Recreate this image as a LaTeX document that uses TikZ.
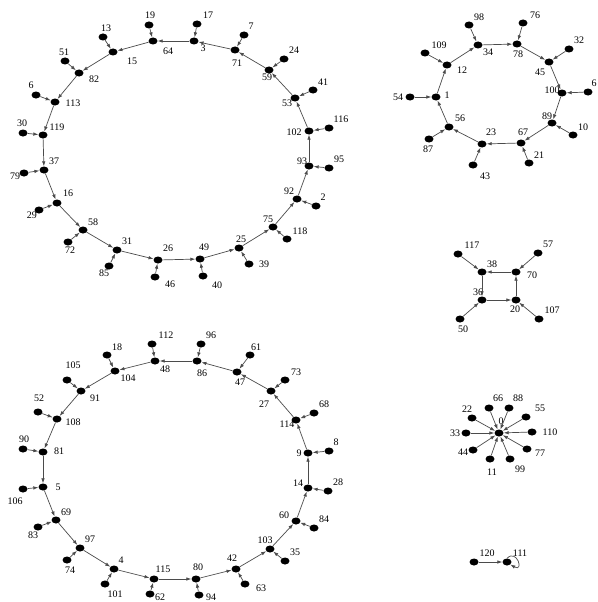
\documentclass[tikz,border=0pt]{standalone}
\usepackage{fontspec}
\setmainfont{Liberation Serif}
\usetikzlibrary{shapes.geometric}
\usetikzlibrary{arrows.meta}

\definecolor{edgegray}{RGB}{75,75,75}
\tikzset{
    vtx/.style={ellipse, fill=black, minimum width=9pt, minimum height=7pt, inner sep=0pt},
    lab/.style={font=\fontsize{10}{12}\selectfont, inner sep=0pt},
    arc/.style={draw=edgegray, line width=0.7pt, -{Latex[length=5pt,width=3.5pt]}},
}

\begin{document}
\begin{tikzpicture}[x=1pt, y=-1pt]
    \useasboundingbox (0,0) rectangle (597,602);

    % upper left ring
    \foreach \n/\x/\y/\lx/\ly in {3/194/41/203/48, 64/153/41/168/51, 15/113/52/132/61,
        82/79/73/94/79, 113/55/102/73/103, 119/43/135/57/127, 37/44/170/54/161,
        16/57/203/68/193, 58/83/230/93/222, 31/117/250/127/241, 26/158/260/168/248,
        49/200/259/204/247, 25/239/248/241/239, 75/273/227/268/219, 92/297/199/289/191,
        93/309/166/302/161, 102/309/131/294/132, 53/295/98/287/103, 59/269/70/267/77,
        71/235/50/237/63,
        17/197/24/208/15, 19/149/25/150/15, 13/103/37/106/28, 51/65/61/64/52,
        6/36/95/31/85, 30/23/133/22/123, 79/24/173/15/176, 29/39/210/32/215,
        72/68/242/70/250, 85/109/266/104/273, 46/155/277/170/284, 40/203/276/217/285,
        39/249/264/264/264, 118/287/239/300/231, 2/316/206/323/197, 95/329/168/339/159,
        116/329/128/341/119, 41/313/90/323/82, 24/284/59/294/50, 7/244/35/251/26} {
        \node[vtx] (v\n) at (\x,\y) {};
        \node[lab] (l\n) at (\lx,\ly) {\n};
    }

    % lower left ring
    \foreach \n/\x/\y/\lx/\ly in {48/155/361/165/369, 86/197/361/202/373, 47/237/372/240/382,
        27/271/391/264/404, 114/296/420/287/424, 9/308/453/299/453, 14/308/488/298/483,
        60/296/521/284/515, 103/270/549/265/540, 42/236/569/232/558, 80/196/579/198/567,
        115/154/579/163/569, 4/114/569/121/560, 97/80/548/90/539, 69/56/520/66/512,
        5/43/487/58/487, 81/43/452/59/451, 108/57/419/73/422, 91/81/391/95/398,
        104/115/371/128/378,
        112/152/344/166/335, 96/201/344/211/335, 61/250/355/256/347, 73/285/380/296/372,
        68/314/413/324/404, 8/329/451/336/442, 28/328/491/338/482, 84/314/528/324/519,
        35/285/561/295/552, 63/245/584/261/588, 94/199/595/211/597, 62/150/594/160/597,
        101/105/584/115/594, 74/67/560/70/570, 83/38/527/33/535, 106/23/489/15/501,
        90/23/449/24/439, 52/38/412/39/398, 105/67/380/73/365, 18/107/355/117/347} {
        \node[vtx] (v\n) at (\x,\y) {};
        \node[lab] (l\n) at (\lx,\ly) {\n};
    }

    % upper right ring
    \foreach \n/\x/\y/\lx/\ly in {1/436/97/447/95, 12/447/65/462/70, 34/478/45/488/52,
        78/517/44/518/54, 45/549/62/540/72, 100/562/93/552/90, 89/552/123/547/116,
        67/521/143/523/132, 23/482/144/491/132, 56/449/127/460/118,
        54/410/97/398/97, 109/425/53/439/45, 98/469/25/479/17, 76/523/23/535/15,
        32/569/49/579/40, 10/573/135/583/127, 21/529/163/539/155, 43/473/165/485/176,
        87/429/139/428/149} {
        \node[vtx] (v\n) at (\x,\y) {};
        \node[lab] (l\n) at (\lx,\ly) {\n};
    }
    \node[vtx] (v6b) at (588,92) {};
    \node[lab] (l6b) at (594,83) {6};

    % square
    \foreach \n/\x/\y/\lx/\ly in {38/482/272/492/264, 70/516/272/532/275, 36/482/300/478/292,
        20/516/300/515/309, 117/458/254/472/245, 57/538/253/548/244, 50/460/319/463/329,
        107/539/319/552/310} {
        \node[vtx] (v\n) at (\x,\y) {};
        \node[lab] (l\n) at (\lx,\ly) {\n};
    }

    % star
    \foreach \n/\x/\y/\lx/\ly in {0/499/433/501/421, 66/489/408/498/398, 88/509/408/518/398,
        55/526/417/540/408, 110/532/432/550/432, 77/527/449/540/453, 99/510/459/520/469,
        11/490/459/492/472, 44/473/450/463/452, 33/466/433/455/433, 22/472/418/467/409,
        120/474/562/487/553, 111/507/562/520/553} {
        \node[vtx] (v\n) at (\x,\y) {};
        \node[lab] (l\n) at (\lx,\ly) {\n};
    }

    % cycles
    \foreach \a/\b in {3/64, 64/15, 15/82, 82/113, 113/119, 119/37, 37/16, 16/58, 58/31,
        31/26, 26/49, 49/25, 25/75, 75/92, 92/93, 93/102, 102/53, 53/59, 59/71, 71/3,
        86/48, 48/104, 104/91, 91/108, 108/81, 81/5, 5/69, 69/97, 97/4, 4/115, 115/80,
        80/42, 42/103, 103/60, 60/14, 14/9, 9/114, 114/27, 27/47, 47/86,
        1/12, 12/34, 34/78, 78/45, 45/100, 100/89, 89/67, 67/23, 23/56, 56/1,
        38/36, 36/20, 20/70, 70/38}
        \draw[arc] (v\a) -- (v\b);

    % pendants
    \foreach \a/\b in {17/3, 19/64, 13/15, 51/82, 6/113, 30/119, 79/37, 29/16, 72/58,
        85/31, 46/26, 40/49, 39/25, 118/75, 2/92, 95/93, 116/102, 41/53, 24/59, 7/71,
        112/48, 96/86, 61/47, 73/27, 68/114, 8/9, 28/14, 84/60, 35/103, 63/42, 94/80,
        62/115, 101/4, 74/97, 83/69, 106/5, 90/81, 52/108, 105/91, 18/104,
        54/1, 109/12, 98/34, 76/78, 32/45, 6b/100, 10/89, 21/67, 43/23, 87/56,
        117/38, 57/70, 50/36, 107/20,
        66/0, 88/0, 55/0, 110/0, 77/0, 99/0, 11/0, 44/0, 33/0, 22/0, 120/111}
        \draw[arc] (v\a) -- (v\b);

    \draw[arc] (v111.north) .. controls +(10,-10) and +(14,8) .. (v111.south east);
\end{tikzpicture}
\end{document}
